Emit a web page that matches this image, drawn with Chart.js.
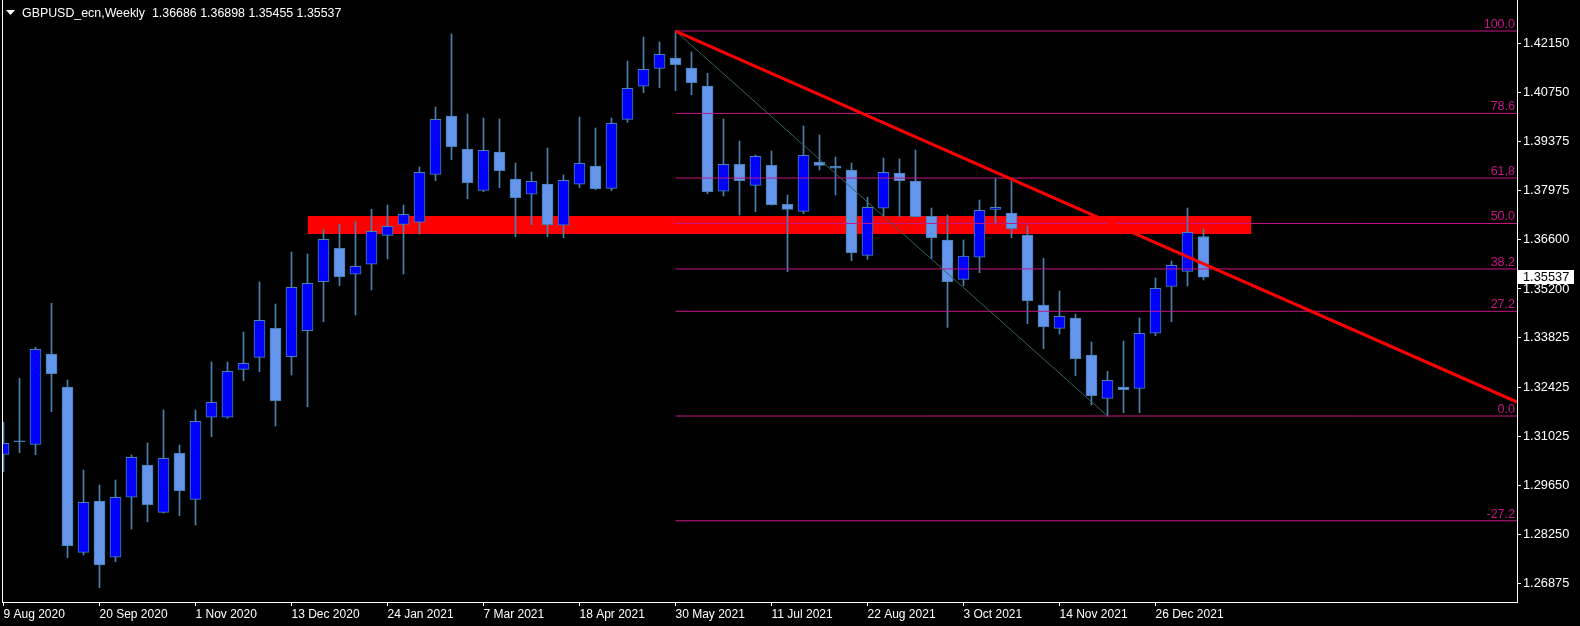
<!DOCTYPE html>
<html><head><meta charset="utf-8">
<script src="https://cdn.jsdelivr.net/npm/chart.js@4.4.1/dist/chart.umd.min.js"></script>
<style>html,body{margin:0;padding:0;background:#000;overflow:hidden}</style>
</head><body>
<canvas id="c" width="1580" height="626"></canvas>
<script>
// ---- data (weekly GBPUSD candles, week index 0 = 9 Aug 2020) ----
const titleText = "GBPUSD_ecn,Weekly  1.36686 1.36898 1.35455 1.35537";
const opens  = [1.30524,1.30900,1.30807,1.33361,1.32428,1.27752,1.29203,1.27611,1.29308,1.30221,
                1.28883,1.30552,1.29251,1.31571,1.31571,1.32928,1.33268,1.34088,1.33285,1.34020,
                1.35406,1.36351,1.35616,1.35899,1.36719,1.37030,1.37087,1.38444,1.40094,1.39160,
                1.37992,1.39075,1.38311,1.37879,1.38170,1.37002,1.38162,1.38679,1.38048,1.40000,
                1.40934,1.41443,1.41734,1.41451,1.40942,1.37964,1.38727,1.38133,1.38699,1.37596,
                1.37398,1.38792,1.38670,1.38566,1.36153,1.37483,1.38481,1.38255,1.37256,1.36586,
                1.35474,1.36097,1.37450,1.37350,1.36727,1.34747,1.34088,1.34380,1.33333,1.32108,
                1.32428,1.32391,1.33947,1.35276,1.35700,1.36686];
const highs  = [1.31429,1.32674,1.33551,1.34795,1.32626,1.30080,1.29656,1.29797,1.30504,1.30844,
                1.31777,1.30787,1.31777,1.33135,1.33135,1.33984,1.35398,1.34776,1.36246,1.36190,
                1.36869,1.37039,1.37095,1.37454,1.37576,1.37576,1.38651,1.40348,1.42413,1.40150,
                1.40037,1.40009,1.38764,1.38509,1.39188,1.38425,1.40065,1.39754,1.40037,1.41649,
                1.42328,1.42187,1.42498,1.41904,1.41301,1.40009,1.39386,1.38990,1.39103,1.37859,
                1.39811,1.39556,1.38934,1.38764,1.37794,1.38905,1.38877,1.39132,1.37491,1.37293,
                1.36586,1.37717,1.38331,1.38283,1.36982,1.36068,1.35143,1.34493,1.33701,1.32872,
                1.33729,1.34380,1.35511,1.35992,1.37491,1.36898];
const lows   = [1.30032,1.30569,1.30513,1.31729,1.27599,1.27676,1.26750,1.27486,1.28411,1.28617,
                1.28860,1.28787,1.28524,1.31022,1.31540,1.32606,1.32861,1.31324,1.32767,1.31870,
                1.34275,1.35293,1.34464,1.35172,1.36049,1.35624,1.36756,1.38263,1.38857,1.37754,
                1.37950,1.38065,1.36679,1.37019,1.36679,1.36651,1.38065,1.38009,1.37980,1.39915,
                1.40753,1.40894,1.40809,1.40696,1.37896,1.37831,1.37293,1.37386,1.37570,1.35689,
                1.37330,1.38566,1.37859,1.36000,1.36040,1.37265,1.37250,1.37240,1.36057,1.34116,
                1.35293,1.35661,1.37075,1.36651,1.34218,1.33511,1.33927,1.32747,1.31919,1.31607,
                1.31701,1.31701,1.33879,1.34275,1.35285,1.35455];
const closes = [1.30835,1.30880,1.33494,1.32804,1.27938,1.29166,1.27393,1.29308,1.30439,1.29098,
                1.30411,1.29494,1.31457,1.31995,1.32872,1.33098,1.34315,1.32040,1.35248,1.35361,
                1.36606,1.35548,1.35842,1.36832,1.36973,1.37313,1.38501,1.40000,1.39225,1.38207,
                1.39123,1.38546,1.37782,1.38246,1.37019,1.38275,1.38756,1.38037,1.39887,1.40877,
                1.41415,1.41839,1.41545,1.41035,1.37952,1.38727,1.38263,1.38954,1.37585,1.37454,
                1.38982,1.38699,1.38620,1.36227,1.37511,1.38501,1.38263,1.37245,1.36651,1.35406,
                1.36133,1.37426,1.37510,1.36906,1.34869,1.34133,1.34428,1.33228,1.32182,1.32617,
                1.32352,1.33947,1.35220,1.35870,1.36804,1.35537];

const dateLabels = ["9 Aug 2020","20 Sep 2020","1 Nov 2020","13 Dec 2020","24 Jan 2021","7 Mar 2021",
                    "18 Apr 2021","30 May 2021","11 Jul 2021","22 Aug 2021","3 Oct 2021","14 Nov 2021","26 Dec 2021"];
const dateLabelIdx = [0,6,12,18,24,30,36,42,48,54,60,66,72];
const priceTicks = [1.42150,1.40750,1.39375,1.37975,1.36600,1.35200,1.33825,1.32425,1.31025,1.29650,1.28250,1.26875];

// support / resistance zone
const zoneStart = 19, zoneEnd = 78;
const zoneTop = 1.37265, zoneBottom = 1.36756;

// fibonacci retracement (from week 42 high to week 69 low)
const fibStart = 42, fibEnd = 69;
const fibLabels = ["100.0","78.6","61,8","50.0","38.2","27.2","0.0","-27.2"];
const fibPrices = [1.42498,1.40167,1.38338,1.37053,1.35767,1.34569,1.31607,1.28645];

// red trend line
const trendX = [42, 94.6];
const trendY = [1.42498, 1.32003];

// ---- view ----
const X_MIN = -0.09375, X_MAX = 94.59375;
const Y_MIN = 1.26346, Y_MAX = 1.43375;
const BULL = '#0000FF', BEAR = '#6495ED', OUTLINE = '#4682B4';
const FIB = '#C71585';
const FONT = "'Liberation Sans', Arial, sans-serif";

const bodyData = opens.map((o, i) => ({x: i, y: [Math.min(o, closes[i]), Math.max(o, closes[i])]}));
const wickData = highs.map((h, i) => ({x: i, y: [lows[i], h]}));

const datasets = [];
datasets.push({type:'line', data:[{x:zoneStart,y:zoneTop},{x:zoneEnd,y:zoneTop}], borderWidth:0, pointRadius:0,
  fill:'+1', backgroundColor:'#FF0000', borderColor:'rgba(0,0,0,0)', order:20});
datasets.push({type:'line', data:[{x:zoneStart,y:zoneBottom},{x:zoneEnd,y:zoneBottom}], borderWidth:0, pointRadius:0,
  fill:false, borderColor:'rgba(0,0,0,0)', order:19});
datasets.push({type:'bar', data:wickData, barThickness:1, grouped:false, backgroundColor:OUTLINE, borderWidth:0, clip:0, order:10});
datasets.push({type:'bar', data:bodyData, barThickness:11, grouped:false, minBarLength:1, clip:0,
  backgroundColor: ctx => (closes[ctx.dataIndex] >= opens[ctx.dataIndex] ? BULL : BEAR),
  borderColor: OUTLINE, borderWidth:1, borderSkipped:false, order:9});
fibPrices.forEach(p => datasets.push({type:'line', data:[{x:fibStart,y:p},{x:X_MAX,y:p}], borderColor:FIB,
  borderWidth:1, pointRadius:0, fill:false, order:5}));
datasets.push({type:'line', data:[{x:fibStart,y:fibPrices[0]},{x:fibEnd,y:fibPrices[6]}], borderColor:'#3A625C',
  borderWidth:1, pointRadius:0, fill:false, order:4});
datasets.push({type:'line', data:[{x:trendX[0],y:trendY[0]},{x:trendX[1],y:trendY[1]}], borderColor:'#FF0000',
  borderWidth:3, pointRadius:0, fill:false, order:1});

const overlay = {
  id:'overlay',
  beforeDraw(chart){
    const c = chart.ctx;
    c.save(); c.fillStyle = '#000'; c.fillRect(0,0,chart.width,chart.height); c.restore();
  },
  afterDraw(chart){
    const c = chart.ctx, a = chart.chartArea, ys = chart.scales.y;
    c.save();
    // frame left line
    c.fillStyle = '#FFFFFF';
    c.fillRect(a.left, a.top, 1, a.bottom - a.top + 1);
    // fib labels
    c.font = '12.5px ' + FONT; c.fillStyle = FIB; c.textAlign = 'right'; c.textBaseline = 'alphabetic';
    fibPrices.forEach((p, i) => { c.fillText(fibLabels[i], a.right - 2, ys.getPixelForValue(p) - 3); });
    // current price label
    const last = closes[closes.length - 1];
    const py = Math.round(ys.getPixelForValue(last));
    c.fillStyle = '#FFFFFF'; c.fillRect(a.right + 1, py - 7, 56, 14);
    c.fillStyle = '#000000'; c.textAlign = 'left'; c.textBaseline = 'middle';
    c.font = '12.8px ' + FONT;
    c.fillText(last.toFixed(5), a.right + 6, py + 0.5);
    // title
    c.fillStyle = '#FFFFFF';
    c.beginPath(); c.moveTo(6, 10); c.lineTo(15, 10); c.lineTo(10.5, 15); c.closePath(); c.fill();
    c.font = '12.4px ' + FONT; c.textBaseline = 'alphabetic'; c.textAlign = 'left';
    c.fillText(titleText, 22, 17);
    c.restore();
  }
};

new Chart(document.getElementById('c'), {
  type:'line',
  data:{datasets},
  options:{
    responsive:false, animation:false, devicePixelRatio:1,
    layout:{padding:{left:2, top:0, right:0, bottom:0}},
    plugins:{legend:{display:false}, tooltip:{enabled:false}, title:{display:false}},
    scales:{
      x:{type:'linear', min:X_MIN, max:X_MAX, offset:false,
        grid:{display:true, offset:false, drawOnChartArea:false, drawTicks:true, tickLength:4, color:'#FFFFFF'},
        border:{display:true, color:'#FFFFFF', width:1},
        afterBuildTicks: s => { s.ticks = dateLabelIdx.map(v => ({value:v})); },
        afterFit: s => { s.height = 24; s.paddingLeft = 0; s.paddingRight = 0; },
        ticks:{color:'#FFFFFF', font:{family:FONT, size:12}, align:'start', maxRotation:0, minRotation:0,
          autoSkip:false, padding:1, callback: v => dateLabels[dateLabelIdx.indexOf(v)] ?? ''}
      },
      y:{type:'linear', position:'right', min:Y_MIN, max:Y_MAX,
        grid:{display:true, drawOnChartArea:false, drawTicks:true, tickLength:4, color:'#FFFFFF'},
        border:{display:true, color:'#FFFFFF', width:1},
        afterBuildTicks: s => { s.ticks = priceTicks.map(v => ({value:v})); },
        afterFit: s => { s.width = 63; s.paddingTop = 0; s.paddingBottom = 0; },
        ticks:{color:'#FFFFFF', font:{family:FONT, size:12.8}, padding:2, autoSkip:false,
          callback: v => Number(v).toFixed(5)}
      }
    }
  },
  plugins:[overlay]
});
</script>
</body></html>
